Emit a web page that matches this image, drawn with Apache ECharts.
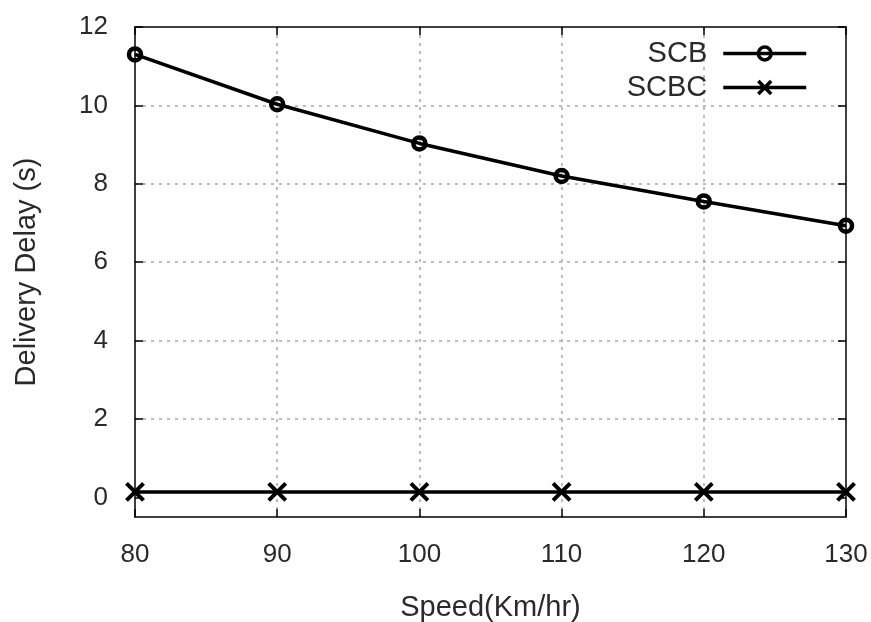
<!DOCTYPE html>
<html>
<head>
<meta charset="utf-8">
<script src="https://cdn.jsdelivr.net/npm/echarts@6/dist/echarts.min.js"></script>
<style>
  html, body { margin: 0; padding: 0; background: #fff; }
  #chart { width: 871px; height: 622px; }
</style>
</head>
<body>
<div id="chart"></div>
<script>
// Delivery delay versus vehicle speed for the two schemes
const speeds = [80, 90, 100, 110, 120, 130];
const scbDelay = [11.3, 10.03, 9.03, 8.2, 7.55, 6.93];
const scbcDelay = [0.14, 0.14, 0.14, 0.14, 0.14, 0.14];
const yTicks = [0, 2, 4, 6, 8, 10, 12];
const xTicks = [80, 90, 100, 110, 120, 130];

const FONT = 'Liberation Sans';
const TEXT = '#2a2a2a';

function pairs(xs, ys) {
  return xs.map((x, i) => [x, ys[i]]);
}

const gridDash = { color: '#a8a8a8', width: 1.5, type: [3, 5] };
const boxLine = { show: true, onZero: false, lineStyle: { color: '#000', width: 1.5 } };
const inTick = { show: true, inside: true, length: 8, lineStyle: { color: '#000', width: 1.5 } };

const crossPath = 'path://M0,0 L10,10 M10,0 L0,10';

const chart = echarts.init(document.getElementById('chart'));
chart.setOption({
  backgroundColor: '#fff',
  animation: false,
  grid: { left: 135, right: 25, top: 27, bottom: 105, outerBoundsMode: 'none', containLabel: false },
  legend: {
    orient: 'vertical',
    right: 58,
    top: 34,
    align: 'right',
    itemWidth: 83,
    itemHeight: 16,
    itemGap: 5,
    textStyle: { fontFamily: FONT, fontSize: 29, color: TEXT, padding: [0, 11, 0, 0] },
    lineStyle: { width: 3.5, color: '#000' },
    itemStyle: { borderWidth: 3.5, borderColor: '#000' },
    data: ['SCB', 'SCBC']
  },
  xAxis: [
    {
      type: 'value',
      min: 80, max: 130, interval: 10,
      name: 'Speed(Km/hr)',
      nameLocation: 'middle',
      nameGap: 76,
      nameTextStyle: { fontFamily: FONT, fontSize: 29, color: TEXT, verticalAlign: 'top' },
      axisLine: boxLine,
      axisTick: inTick,
      axisLabel: { fontFamily: FONT, fontSize: 26, color: TEXT, margin: 25 },
      splitLine: { show: true, showMinLine: false, showMaxLine: false, lineStyle: gridDash }
    },
    {
      type: 'value',
      position: 'top',
      min: 80, max: 130, interval: 10,
      axisLine: boxLine,
      axisTick: inTick,
      axisLabel: { show: false },
      splitLine: { show: false }
    }
  ],
  yAxis: [
    {
      type: 'value',
      min: -0.5, max: 12,
      name: 'Delivery Delay (s)',
      nameLocation: 'middle',
      nameGap: 94,
      nameTextStyle: { fontFamily: FONT, fontSize: 29, color: TEXT },
      axisLine: boxLine,
      axisTick: Object.assign({ customValues: yTicks }, inTick),
      axisLabel: { fontFamily: FONT, fontSize: 26, color: TEXT, margin: 27, customValues: yTicks },
      splitLine: { show: true, showMinLine: false, showMaxLine: false, lineStyle: gridDash }
    },
    {
      type: 'value',
      position: 'right',
      min: -0.5, max: 12,
      axisLine: boxLine,
      axisTick: Object.assign({ customValues: yTicks }, inTick),
      axisLabel: { show: false, customValues: yTicks },
      splitLine: { show: false }
    }
  ],
  series: [
    {
      name: 'SCB',
      type: 'line',
      data: pairs(speeds, scbDelay),
      symbol: 'circle',
      symbolSize: 12,
      lineStyle: { color: '#000', width: 3.5 },
      itemStyle: { color: 'rgba(255,255,255,0)', borderColor: '#000', borderWidth: 4.5 },
      z: 3
    },
    {
      name: 'SCBC',
      type: 'line',
      data: pairs(speeds, scbcDelay),
      symbol: crossPath,
      symbolSize: 17,
      lineStyle: { color: '#000', width: 3.5 },
      itemStyle: { color: 'rgba(0,0,0,0)', borderColor: '#000', borderWidth: 4 },
      z: 3
    }
  ]
});
</script>
</body>
</html>
